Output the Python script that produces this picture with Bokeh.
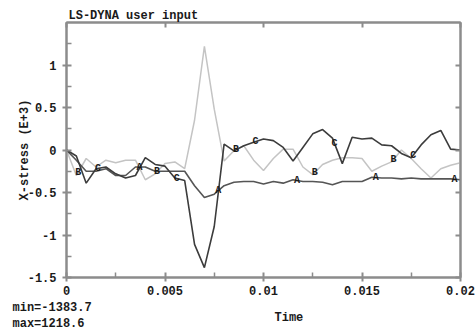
import numpy as np
from bokeh.plotting import figure
from bokeh.models import LinearAxis, FixedTicker, Range1d, CustomJSTickFormatter, Title
from bokeh.core.properties import value
from bokeh.embed import file_html
from bokeh.resources import INLINE

# ---- data ----
time = [0.0, 0.0005, 0.001, 0.0015, 0.002, 0.0025, 0.003, 0.0035, 0.004, 0.0045,
        0.005, 0.0055, 0.006, 0.0065, 0.007, 0.0075, 0.008, 0.0085, 0.009, 0.0095,
        0.01, 0.0105, 0.011, 0.0115, 0.012, 0.0125, 0.013, 0.0135, 0.014, 0.0145,
        0.015, 0.0155, 0.016, 0.0165, 0.017, 0.0175, 0.018, 0.0185, 0.019, 0.0195, 0.02]

stress_A = [0.0, -0.12, -0.25, -0.25, -0.22, -0.30, -0.30, -0.20, -0.20, -0.25,
            -0.25, -0.25, -0.25, -0.42, -0.56, -0.52, -0.42, -0.38, -0.37, -0.37,
            -0.40, -0.37, -0.39, -0.35, -0.37, -0.37, -0.38, -0.41, -0.37, -0.37,
            -0.37, -0.32, -0.33, -0.33, -0.34, -0.33, -0.34, -0.34, -0.34, -0.34, -0.35]

stress_B = [0.0, -0.30, -0.10, -0.20, -0.12, -0.15, -0.12, -0.12, -0.35, -0.28,
            -0.16, -0.14, -0.22, 0.35, 1.2186, 0.48, -0.13, -0.01, 0.05, -0.12,
            -0.24, -0.10, 0.01, 0.01, -0.20, -0.29, -0.17, -0.12, -0.09, -0.09,
            -0.10, -0.25, -0.19, -0.14, 0.00, -0.10, -0.22, -0.33, -0.22, -0.18, -0.15]

stress_C = [0.0, -0.07, -0.39, -0.22, -0.20, -0.28, -0.33, -0.30, -0.09, -0.17,
            -0.19, -0.33, -0.36, -1.11, -1.3837, -0.90, 0.07, -0.01, 0.05, 0.09,
            0.13, 0.11, 0.03, -0.13, 0.03, 0.19, 0.24, 0.14, -0.16, 0.15,
            0.13, 0.14, 0.06, 0.05, -0.04, -0.09, 0.06, 0.18, 0.23, 0.01, 0.0]

label_t_A = [0.0037, 0.0077, 0.0117, 0.0157, 0.0197]
label_t_B = [0.0006, 0.0046, 0.0086, 0.0126, 0.0166]
label_t_C = [0.0016, 0.0056, 0.0096, 0.0136, 0.0176]

x_major = [0.0, 0.005, 0.01, 0.015, 0.02]
x_minor = [0.0025, 0.0075, 0.0125, 0.0175]
y_major = [-1.5, -1.0, -0.5, 0.0, 0.5, 1.0]
y_minor = [-1.25, -0.75, -0.25, 0.25, 0.75, 1.25]

title_text = "LS-DYNA user input"
x_title = "Time"
y_title = "X-stress (E+3)"
min_text = "min=-1383.7"
max_text = "max=1218.6"

# ---- style ----
FONT_NAME = "Liberation Mono"
AXIS_COL = "#8c8c8c"
TXT_COL = "#1a1a1a"

p = figure(width=476, height=330, output_backend="svg", toolbar_location=None,
           x_range=Range1d(0, 0.02), y_range=Range1d(-1.5, 1.5),
           x_axis_location=None, y_axis_location=None,
           min_border_left=66, min_border_right=16, min_border_top=22, min_border_bottom=0)
p.grid.visible = False
p.outline_line_color = AXIS_COL
p.outline_line_width = 2
p.background_fill_color = "white"
p.border_fill_color = "white"

num_fmt = CustomJSTickFormatter(code="return tick.toString();")
blank_fmt = CustomJSTickFormatter(code="return '';")


def style_axis(ax, out=4, minor=True, labels=True):
    ax.axis_line_color = AXIS_COL
    ax.axis_line_width = 2
    ax.major_tick_line_color = AXIS_COL
    ax.major_tick_line_width = 2
    ax.major_tick_in = 5
    ax.major_tick_out = out
    ax.minor_tick_line_color = AXIS_COL
    ax.minor_tick_line_width = 1.5
    ax.minor_tick_in = 5 if minor else 0
    ax.minor_tick_out = 0
    ax.major_label_text_font = FONT_NAME
    ax.major_label_text_font_style = "bold"
    ax.major_label_text_font_size = "12px" if labels else "0px"
    ax.major_label_text_color = TXT_COL
    ax.axis_label_text_font = FONT_NAME
    ax.axis_label_text_font_style = "bold"
    ax.axis_label_text_font_size = "12px"
    ax.axis_label_text_color = TXT_COL


# title above
p.title = Title(text=title_text, align="left", offset=2, standoff=0,
                text_font=FONT_NAME, text_font_style="bold", text_font_size="12px",
                text_color=TXT_COL)

xt = LinearAxis(ticker=FixedTicker(ticks=x_major, minor_ticks=[]), formatter=blank_fmt)
style_axis(xt, out=0, minor=False, labels=False)
xt.major_label_standoff = 0
p.add_layout(xt, "above")

yr = LinearAxis(ticker=FixedTicker(ticks=y_major, minor_ticks=[]), formatter=blank_fmt)
style_axis(yr, out=0, minor=False, labels=False)
yr.major_label_standoff = 0
p.add_layout(yr, "right")

yl = LinearAxis(ticker=FixedTicker(ticks=y_major, minor_ticks=y_minor), formatter=num_fmt,
                axis_label=y_title)
style_axis(yl)
yl.major_label_standoff = 6
yl.axis_label_standoff = -7
p.add_layout(yl, "left")

xb = LinearAxis(ticker=FixedTicker(ticks=x_major, minor_ticks=x_minor), formatter=num_fmt)
style_axis(xb)
xb.major_label_standoff = 4
p.add_layout(xb, "below")

for txt, off, stand in [(min_text, -54, 4), (x_title, 208, -17), (max_text, -54, -3)]:
    p.add_layout(Title(text=txt, align="left", offset=off, standoff=stand, vertical_align="middle",
                       text_font=FONT_NAME, text_font_style="bold", text_font_size="12px",
                       text_color=TXT_COL), "below")

# ---- curves ----
p.line(time, stress_B, line_color="#c4c4c4", line_width=1.5)
p.line(time, stress_A, line_color="#555555", line_width=1.6)
p.line(time, stress_C, line_color="#3c3c3c", line_width=1.6)

for lt, ys, lab in [(label_t_A, stress_A, "A"), (label_t_B, stress_B, "B"), (label_t_C, stress_C, "C")]:
    ly = np.interp(lt, time, ys)
    p.text(x=lt, y=list(ly), text=[lab] * len(lt), text_font=value(FONT_NAME), text_font_style="bold",
           text_font_size="10px", text_color=TXT_COL, text_align="center", text_baseline="middle")

open("out.html", "w").write(file_html(p, INLINE))
